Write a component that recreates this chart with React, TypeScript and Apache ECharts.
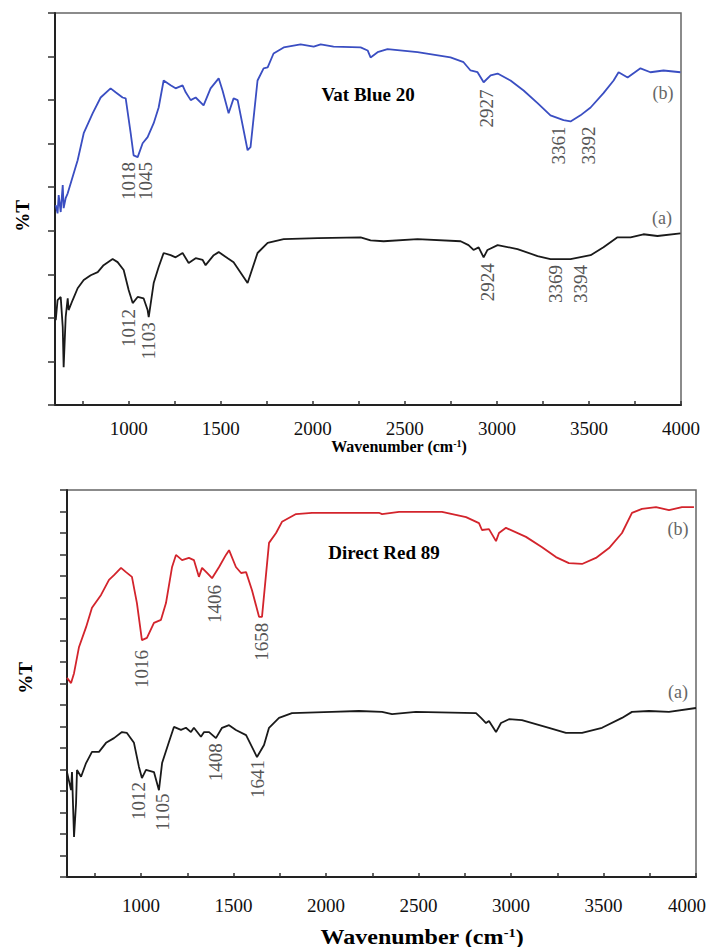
import React, { useEffect, useRef } from "react";
import * as echarts from "echarts";

const SERIF = "'Liberation Serif','Times New Roman',Times,serif";

// x-axis labels / ticks (wavenumber, cm-1)
const xLabelValues = [1000, 1500, 2000, 2500, 3000, 3500, 4000];
const xTickValues = [750, 1000, 1250, 1500, 1750, 2000, 2250, 2500, 2750, 3000, 3250, 3500, 3750, 4000];

// Vat Blue 20 - trace (b), blue
const vatBlueB: number[][] = [
  [604, 45.9], [614, 44.0], [620, 48.2], [631, 44.3], [642, 50.5], [647, 45.2], [658, 47.5], [669, 48.6],
  [723, 56.2], [756, 62.4], [805, 67.0], [848, 70.6], [902, 72.7], [929, 71.8], [967, 70.6], [984, 70.4],
  [1011, 62.4], [1027, 57.3], [1049, 56.9], [1076, 60.1], [1103, 61.5], [1136, 64.7], [1163, 68.3],
  [1190, 74.5], [1228, 73.4], [1255, 72.7], [1293, 73.4], [1310, 71.8], [1337, 70.0], [1364, 70.6],
  [1407, 68.8], [1445, 72.7], [1489, 75.0], [1510, 72.2], [1543, 67.0], [1570, 70.4], [1592, 70.0],
  [1646, 58.5], [1662, 59.2], [1700, 74.5], [1733, 77.3], [1755, 77.5], [1787, 80.7], [1842, 82.1],
  [1934, 82.8], [2005, 82.3], [2043, 82.8], [2113, 82.3], [2260, 82.1], [2298, 81.4], [2314, 79.8],
  [2352, 81.0], [2406, 81.7], [2569, 81.0], [2748, 79.8], [2819, 78.7], [2857, 76.8], [2895, 76.4],
  [2928, 74.1], [2966, 75.7], [3004, 76.1], [3074, 74.5], [3145, 72.2], [3221, 69.3], [3291, 66.5],
  [3362, 65.4], [3400, 65.1], [3454, 66.5], [3509, 68.3], [3579, 71.6], [3634, 74.5], [3661, 76.4],
  [3710, 75.2], [3780, 77.3], [3834, 76.4], [3905, 76.8], [3997, 76.4],
];

// Vat Blue 20 - trace (a), black
const vatBlueA: number[][] = [
  [604, 19.5], [614, 24.1], [631, 24.8], [642, 17.9], [647, 8.7], [658, 20.2], [669, 24.5], [674, 21.8],
  [696, 24.1], [723, 26.8], [756, 28.7], [794, 29.8], [832, 30.5], [864, 32.1], [913, 33.5], [940, 32.8],
  [973, 31.0], [1000, 26.4], [1022, 23.4], [1049, 24.8], [1081, 24.5], [1103, 21.8], [1109, 20.2],
  [1136, 28.0], [1163, 31.7], [1190, 34.9], [1228, 34.4], [1255, 33.9], [1293, 34.9], [1326, 32.6],
  [1364, 33.7], [1402, 33.3], [1418, 32.1], [1462, 34.4], [1489, 35.1], [1538, 33.7], [1570, 32.8],
  [1646, 28.0], [1700, 34.9], [1755, 37.2], [1842, 38.1], [2026, 38.3], [2260, 38.5], [2314, 37.8],
  [2385, 37.6], [2569, 38.1], [2803, 37.6], [2846, 36.7], [2873, 35.6], [2901, 36.2], [2928, 33.9],
  [2949, 35.6], [3004, 36.7], [3112, 35.8], [3221, 34.2], [3291, 33.5], [3400, 33.5], [3509, 34.4],
  [3579, 36.2], [3655, 38.5], [3726, 38.5], [3796, 39.2], [3872, 38.8], [3997, 39.4],
];

// Direct Red 89 - trace (b), red
const directRedB: number[][] = [
  [600, 46.3], [622, 45.1], [638, 47.4], [665, 53.5], [703, 58.1], [735, 62.6], [784, 65.6], [827, 69.1],
  [854, 70.2], [892, 71.9], [919, 70.9], [951, 69.8], [978, 63.7], [1005, 55.1], [1032, 55.6], [1070, 59.1],
  [1108, 59.8], [1135, 63.7], [1168, 72.1], [1189, 74.9], [1222, 73.7], [1259, 74.2], [1286, 73.7],
  [1313, 69.8], [1330, 71.9], [1357, 70.7], [1384, 69.5], [1422, 72.1], [1459, 74.9], [1476, 76.0],
  [1513, 72.1], [1541, 70.7], [1568, 70.9], [1600, 66.7], [1638, 60.5], [1654, 60.5], [1692, 77.7],
  [1730, 80.0], [1762, 82.6], [1838, 84.4], [1924, 84.7], [2178, 84.7], [2286, 84.7], [2303, 84.4],
  [2395, 84.9], [2627, 84.9], [2757, 83.7], [2827, 82.3], [2843, 80.7], [2881, 80.9], [2919, 78.1],
  [2935, 80.0], [2973, 81.2], [3081, 79.1], [3168, 76.7], [3243, 74.4], [3313, 73.0], [3384, 72.8],
  [3459, 74.2], [3530, 76.5], [3600, 80.0], [3654, 84.7], [3708, 85.6], [3784, 86.0], [3854, 85.3],
  [3924, 86.0], [3989, 86.0],
];

// Direct Red 89 - trace (a), black
const directRedA: number[][] = [
  [600, 24.4], [622, 20.2], [627, 24.4], [638, 9.3], [649, 17.2], [654, 24.9], [676, 23.3], [703, 26.5],
  [735, 29.1], [773, 29.1], [811, 31.2], [854, 32.3], [897, 33.7], [924, 33.5], [962, 31.2], [989, 25.6],
  [1005, 23.0], [1027, 24.9], [1070, 24.4], [1097, 20.2], [1114, 26.5], [1151, 31.4], [1178, 34.9],
  [1216, 34.2], [1243, 34.7], [1270, 33.7], [1286, 34.7], [1324, 32.6], [1341, 33.7], [1368, 33.7],
  [1405, 32.3], [1438, 34.7], [1476, 35.3], [1513, 34.2], [1568, 33.0], [1627, 27.9], [1665, 30.7],
  [1692, 34.7], [1746, 37.0], [1816, 38.1], [2032, 38.4], [2178, 38.6], [2303, 38.4], [2357, 37.9],
  [2486, 38.4], [2811, 38.1], [2838, 37.0], [2865, 35.8], [2881, 36.3], [2919, 33.7], [2946, 35.8],
  [2989, 36.7], [3059, 36.5], [3205, 34.7], [3297, 33.5], [3384, 33.5], [3492, 34.7], [3600, 37.0],
  [3654, 38.4], [3746, 38.6], [3854, 38.4], [4000, 39.3],
];

// peak annotations: label text and where the (vertical) label is centred, in data coords
const topPeakLabels = ["1018", "1045", "2927", "3361", "3392", "1012", "1103", "2924", "3369", "3394"];
const topPeakAnchors = [
  [1000, 51.4], [1092, 51.4], [2944, 68.1], [3335, 59.6], [3498, 59.6],
  [1000, 17.7], [1109, 14.7], [2949, 28.2], [3319, 27.8], [3454, 27.8],
];
const bottomPeakLabels = ["1016", "1406", "1658", "1012", "1105", "1408", "1641"];
const bottomPeakAnchors = [
  [1005, 48.4], [1395, 63.5], [1654, 54.7], [989, 17.7], [1114, 15.1], [1405, 26.7], [1632, 22.8],
];

function xAxisCfg(gridIndex: number, margin: number, lastPad: number) {
  return {
    type: "value",
    gridIndex,
    min: 600,
    max: 4000,
    axisLine: { show: true, lineStyle: { color: "#222", width: 2 } },
    axisTick: { show: true, inside: true, length: 4, customValues: xTickValues, lineStyle: { color: "#333", width: 1.5 } },
    axisLabel: {
      show: true,
      customValues: xLabelValues,
      margin,
      color: "#111",
      fontFamily: SERIF,
      fontSize: 19,
      formatter: (v: number) => (v === 4000 ? "{last|" + String(v) + "}" : String(v)),
      rich: {
        last: { color: "#111", fontFamily: SERIF, fontSize: 19, padding: [0, lastPad, 0, 0] },
      },
    },
    splitLine: { show: false },
  };
}

function yAxisCfg(gridIndex: number, interval: number) {
  return {
    type: "value",
    gridIndex,
    min: 0,
    max: 90,
    interval,
    axisLine: { show: true, lineStyle: { color: "#222", width: 2 } },
    axisTick: { show: true, inside: false, length: 7, lineStyle: { color: "#333", width: 1.5 } },
    axisLabel: { show: false },
    splitLine: { show: false },
  };
}

function lineSeries(data: number[][], color: string, xAxisIndex: number, yAxisIndex: number) {
  return {
    type: "line",
    data,
    xAxisIndex,
    yAxisIndex,
    showSymbol: false,
    symbol: "none",
    smooth: false,
    lineStyle: { color, width: 1.8 },
    emphasis: { disabled: true },
  };
}

export default function App() {
  const ref = useRef<HTMLDivElement>(null);

  useEffect(() => {
    if (!ref.current) return;
    const chart = echarts.init(ref.current, null, { renderer: "svg" });
    const option: any = {
      animation: false,
      backgroundColor: "#ffffff",
      grid: [
        { left: 55, top: 13, width: 626, height: 392, show: true, borderColor: "#666", borderWidth: 1.5, containLabel: false, outerBoundsMode: "none" },
        { left: 67, top: 490, width: 629, height: 387, show: true, borderColor: "#666", borderWidth: 1.5, containLabel: false, outerBoundsMode: "none" },
      ],
      xAxis: [xAxisCfg(0, 14, 0), xAxisCfg(1, 19, 18)],
      yAxis: [yAxisCfg(0, 10), yAxisCfg(1, 5)],
      series: [
        lineSeries(vatBlueB, "#3a4ec2", 0, 0),
        lineSeries(vatBlueA, "#1a1a1a", 0, 0),
        lineSeries(directRedB, "#d3242c", 1, 1),
        lineSeries(directRedA, "#1a1a1a", 1, 1),
      ],
    };
    chart.setOption(option);

    const graphics: any[] = [];
    const peakText = (t: string, p: number[]) => ({
      type: "text",
      x: p[0],
      y: p[1],
      rotation: Math.PI / 2,
      silent: true,
      style: { text: t, font: `19px ${SERIF}`, fill: "#555", align: "center", verticalAlign: "middle" },
    });
    topPeakLabels.forEach((t, i) => {
      const p = chart.convertToPixel({ gridIndex: 0 } as any, topPeakAnchors[i]) as number[];
      graphics.push(peakText(t, p));
    });
    bottomPeakLabels.forEach((t, i) => {
      const p = chart.convertToPixel({ gridIndex: 1 } as any, bottomPeakAnchors[i]) as number[];
      graphics.push(peakText(t, p));
    });

    const plain = (text: string, x: number, y: number, font: string, fill: string, extra: any = {}) => ({
      type: "text",
      x,
      y,
      silent: true,
      ...extra,
      style: { text, font, fill, align: "center", verticalAlign: "middle" },
    });

    graphics.push(plain("Vat Blue 20", 368, 94, `bold 19px ${SERIF}`, "#000"));
    graphics.push(plain("Direct Red 89", 384, 552, `bold 19px ${SERIF}`, "#000"));
    graphics.push(plain("(b)", 663, 93, `18px ${SERIF}`, "#666"));
    graphics.push(plain("(a)", 662, 218, `18px ${SERIF}`, "#666"));
    graphics.push(plain("(b)", 678, 529, `18px ${SERIF}`, "#666"));
    graphics.push(plain("(a)", 678, 692, `18px ${SERIF}`, "#666"));
    graphics.push(plain("%T", 22, 216, `bold 19px ${SERIF}`, "#000", { rotation: Math.PI / 2 }));
    graphics.push(plain("%T", 25, 678, `bold 19px ${SERIF}`, "#000", { rotation: Math.PI / 2 }));

    const titleRich = (size: number) => ({
      base: { fontFamily: SERIF, fontWeight: "bold", fontSize: size, fill: "#000" },
      sup: { fontFamily: SERIF, fontWeight: "bold", fontSize: Math.round(size * 0.6), fill: "#000", verticalAlign: "top" },
    });
    graphics.push({
      type: "text",
      x: 399,
      y: 446,
      silent: true,
      style: {
        text: "{base|Wavenumber (cm}{sup|-1}{base|)}",
        rich: titleRich(16),
        align: "center",
        verticalAlign: "middle",
      },
    });
    graphics.push({
      type: "text",
      x: 422,
      y: 937,
      scaleX: 1.2,
      silent: true,
      style: {
        text: "{base|Wavenumber (cm}{sup|-1}{base|)}",
        rich: titleRich(20),
        align: "center",
        verticalAlign: "middle",
      },
    });

    chart.setOption({ graphic: graphics });

    return () => {
      chart.dispose();
    };
  }, []);

  return (
    <div
      ref={ref}
      style={{ position: "absolute", left: 0, top: 0, width: "710px", height: "947px", background: "#fff" }}
    />
  );
}
